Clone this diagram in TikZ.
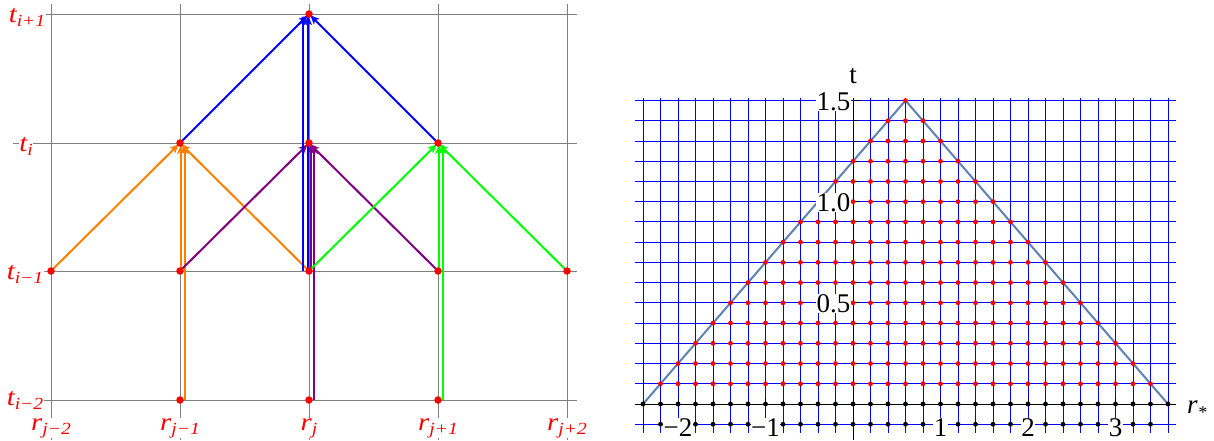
\documentclass[tikz,border=0pt]{standalone}
\usepackage{fontspec}
\setmainfont{Liberation Serif}
\usetikzlibrary{arrows.meta}
\definecolor{mOrange}{RGB}{255,128,0}
\definecolor{mPurple}{RGB}{128,0,128}
\definecolor{mGreen}{RGB}{0,255,0}
\definecolor{mBlue}{RGB}{0,0,255}
\definecolor{mRed}{RGB}{255,0,0}
\definecolor{gridgray}{RGB}{128,128,128}
\definecolor{steel}{RGB}{94,129,181}
\newcommand\lbl[2]{\scalebox{1.15}[1]{\fontsize{25}{25}\selectfont\itshape #1\raisebox{-4pt}{\fontsize{17}{17}\selectfont #2}}}
\begin{document}
\begin{tikzpicture}[x=1pt,y=-1pt,
  ggrid/.style={draw=gridgray, line width=0.8pt},
  arr/.style={line width=2pt, -{Stealth[length=9pt,width=8pt,inset=2.5pt]}, shorten >=2pt},
  bigdot/.style={circle, fill=mRed, inner sep=0pt, minimum size=7.5pt},
  lab/.style={text=mRed, fill=white, inner sep=0.5pt},
  bgrid/.style={draw=mBlue, line width=0.9pt},
  axisline/.style={draw=black, line width=0.9pt},
  tri/.style={draw=steel, line width=2pt},
  sdot/.style={circle, inner sep=0pt, minimum size=4.8pt},
  tlab/.style={font=\fontsize{27}{27}\selectfont, fill=white, inner sep=0.5pt}
]
\useasboundingbox (0,0) rectangle (1214,440);
% ---------- left panel ----------
\foreach \x in {51,180,309,438,567} \draw[ggrid] (\x,4) -- (\x,440);
\foreach \y in {14,143,271,400} \draw[ggrid] (13,\y) -- (577,\y);
\foreach \c/\x in {0/51,1/180,2/309,3/438,4/567}
  \foreach \r/\y in {0/400,1/271,2/143,3/14}
    \coordinate (c\c r\r) at (\x,\y);
% orange
\draw[arr,mOrange] (c0r1) -- (c1r2);
\draw[arr,mOrange] (c2r1) -- (c1r2);
\draw[arr,mOrange] ([xshift=1pt]c1r1) -- ([xshift=1pt]c1r2);
\draw[arr,mOrange] ([xshift=4.5pt]c1r0) -- ([xshift=4.5pt]c1r2);
% purple
\draw[arr,mPurple] (c1r1) -- (c2r2);
\draw[arr,mPurple] (c3r1) -- (c2r2);
\draw[arr,mPurple] ([xshift=1.5pt]c2r1) -- ([xshift=1.5pt]c2r2);
\draw[arr,mPurple] ([xshift=5pt]c2r0) -- ([xshift=5pt]c2r2);
% green
\draw[arr,mGreen] (c2r1) -- (c3r2);
\draw[arr,mGreen] (c4r1) -- (c3r2);
\draw[arr,mGreen] ([xshift=1pt]c3r1) -- ([xshift=1pt]c3r2);
\draw[arr,mGreen] ([xshift=4.5pt]c3r0) -- ([xshift=4.5pt]c3r2);
% blue
\draw[arr,mBlue] (c1r2) -- (c2r3);
\draw[arr,mBlue] (c3r2) -- (c2r3);
\draw[arr,mBlue] ([xshift=-6pt]c2r1) -- ([xshift=-6pt]c2r3);
\draw[arr,mBlue] ([xshift=-1pt]c2r1) -- ([xshift=-1pt]c2r3);
% dots
\foreach \p in {c0r1,c1r1,c2r1,c3r1,c4r1,c1r0,c2r0,c3r0,c1r2,c2r2,c3r2,c2r3}
  \node[bigdot] (d\p) at (\p) {};
% labels
\node[lab, anchor=base] (lt3) at (27,22) {\lbl{t}{i+1}};
\node[lab, anchor=base] (lt2) at (26,151) {\lbl{t}{i}};
\node[lab, anchor=base] (lt1) at (25,279) {\lbl{t}{i−1}};
\node[lab, anchor=base] (lt0) at (25,405) {\lbl{t}{i−2}};
\node[lab, anchor=base] (lr0) at (51,430) {\lbl{r}{j−2}};
\node[lab, anchor=base] (lr1) at (180,430) {\lbl{r}{j−1}};
\node[lab, anchor=base] (lr2) at (309,430) {\lbl{r}{j}};
\node[lab, anchor=base] (lr3) at (438,430) {\lbl{r}{j+1}};
\node[lab, anchor=base] (lr4) at (567,430) {\lbl{r}{j+2}};
% ---------- right panel ----------
\begin{scope}[xshift=853pt, yshift=-404pt, x=87.5pt, y=202.3pt]
  \foreach \j in {0,...,30} \draw[bgrid] ({-2.4+0.2*\j},1.513) -- ({-2.4+0.2*\j},-0.143);
  \foreach \k in {0,...,16} \draw[bgrid] (-2.49,{-0.1+0.1*\k}) -- (3.69,{-0.1+0.1*\k});
  \draw[axisline] (-2.49,0) -- (3.69,0);
  \draw[axisline] (0,1.513) -- (0,-0.18);
  \foreach \k in {1,...,15} \draw[axisline] (0,{0.1*\k}) -- ++(4pt,0);
  \foreach \v in {0.5,1.0,1.5} \draw[axisline] (0,\v) -- ++(7pt,0);
  \foreach \j in {0,...,30} \draw[axisline] ({-2.4+0.2*\j},0) -- ++(0,3pt);
  \foreach \v in {-2,-1,1,2,3} \draw[axisline] (\v,0) -- ++(0,6pt);
  \coordinate (bl) at (-2.4,0);
  \coordinate (ap) at (0.6,1.5);
  \coordinate (br) at (3.6,0);
  \draw[tri] (bl) -- (ap) -- (br);
  \foreach \k in {1,...,15}{
    \pgfmathtruncatemacro\hi{30-\k}
    \foreach \j in {\k,...,\hi}
      \node[sdot, fill=mRed] (p\k-\j) at ({-2.4+0.2*\j},{0.1*\k}) {};
  }
  \foreach \j in {0,...,30} \node[sdot, fill=black] (b0-\j) at ({-2.4+0.2*\j},0) {};
  \foreach \j in {1,...,29} \node[sdot, fill=black] (bm-\j) at ({-2.4+0.2*\j},-0.1) {};
\end{scope}
\node[tlab, anchor=base east] (y15) at (851,110.5) {1.5};
\node[tlab, anchor=base east] (y10) at (851,211) {1.0};
\node[tlab, anchor=base east] (y05) at (851,312) {0.5};
\node[tlab, anchor=base] (xm2) at (678,436) {−2};
\node[tlab, anchor=base] (xm1) at (765.5,436) {−1};
\node[tlab, anchor=base] (x1) at (940.5,436) {1};
\node[tlab, anchor=base] (x2) at (1028,436) {2};
\node[tlab, anchor=base] (x3) at (1115.5,436) {3};
\node[font=\fontsize{27}{27}\selectfont, inner sep=0pt, anchor=base] (tax) at (853,83) {t};
\node[font=\fontsize{27}{27}\selectfont\itshape, inner sep=0pt, anchor=base west] (rax) at (1187,413) {r\raisebox{-5pt}{\fontsize{18}{18}\selectfont *}};
\end{tikzpicture}
\end{document}
